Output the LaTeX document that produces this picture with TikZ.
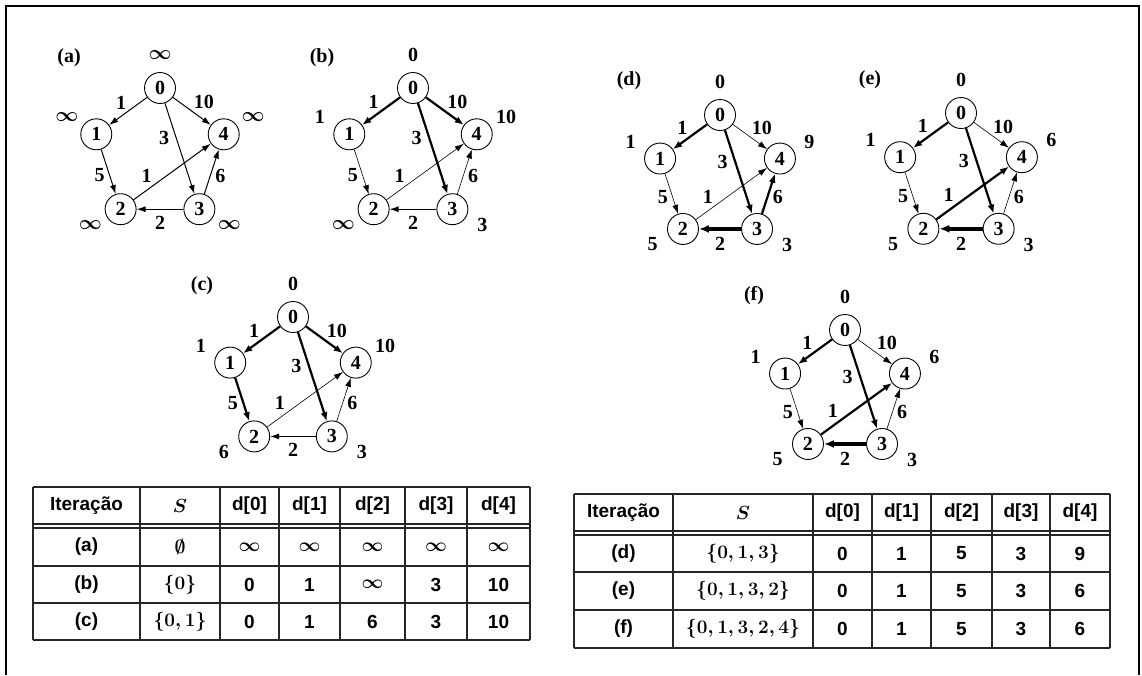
\documentclass[tikz,border=0pt]{standalone}
\usepackage{fix-cm}
\usepackage[no-math]{fontspec}
\setmainfont{Liberation Serif}
\newfontfamily\tabfont{Liberation Sans}
\usepackage{amsmath,amssymb}
\usetikzlibrary{arrows.meta,calc}

\newcommand{\gfont}{\fontsize{20}{20}\selectfont\bfseries\boldmath}
\newcommand{\tfont}{\tabfont\fontsize{19}{19}\selectfont\bfseries\boldmath}

% pentagon graph: prefix, centre, radius, tag, then d[0]..d[4]
\newcommand{\dgraph}[9]{%
  \coordinate (#1c) at #2;
  \node[vtx] (#10) at ($(#1c)+(90:#3)$) {0};
  \node[vtx] (#11) at ($(#1c)+(162:#3)$) {1};
  \node[vtx] (#12) at ($(#1c)+(234:#3)$) {2};
  \node[vtx] (#13) at ($(#1c)+(306:#3)$) {3};
  \node[vtx] (#14) at ($(#1c)+(18:#3)$) {4};
  \node[dist] (#10d) at ($(#10)+(90:33)$) {#5};
  \node[dist] (#11d) at ($(#11)+(150:34)$) {#6};
  \node[dist] (#12d) at ($(#12)+(207:34)$) {#7};
  \node[dist] (#13d) at ($(#13)+(-28:34)$) {#8};
  \node[dist] (#14d) at ($(#14)+(30:34)$) {#9};
  \node[tag] (#1t) at ($(#1c)+(-91,97)$) {(#4)};
}
% edge styles in the order 0-1, 0-4, 0-3, 1-2, 2-4, 3-4, 3-2
\newcommand{\dedges}[8]{%
  \draw[#2] (#10) -- node[wt,above left=0pt] (#1w01) {1} (#11);
  \draw[#3] (#10) -- node[wt,above right=0pt] (#1w04) {10} (#14);
  \draw[#4] (#10) -- node[wt,left=5pt,pos=.38] (#1w03) {3} (#13);
  \draw[#5] (#11) -- node[wt,left=3pt,pos=.58] (#1w12) {5} (#12);
  \draw[#6] (#12) -- node[wt,above=6pt,pos=.17] (#1w24) {1} (#14);
  \draw[#7] (#13) -- node[wt,right=3pt,pos=.41] (#1w34) {6} (#14);
  \draw[#8] (#13) -- node[wt,below=5pt] (#1w32) {2} (#12);
}

\begin{document}
\begin{tikzpicture}[x=1pt,y=1pt,
    vtx/.style={circle,draw,line width=.9pt,fill=white,minimum size=31pt,inner sep=0pt,font=\gfont},
    dist/.style={inner sep=1pt,font=\gfont},
    wt/.style={inner sep=1.5pt,font=\gfont},
    tag/.style={inner sep=0pt,font=\gfont},
    nrm/.style={line width=1pt,-{Latex[length=9pt,width=6pt]}},
    thn/.style={line width=.6pt,-{Latex[length=9pt,width=6pt]}},
    thk/.style={line width=2.2pt,-{Latex[length=9pt,width=7pt]}},
    hvy/.style={line width=3.6pt,-{Latex[length=10pt,width=8pt]}},
    grid/.style={line width=1.3pt,black!85},
    cell/.style={inner sep=0pt,font=\tfont}]
  \useasboundingbox (0,0) rectangle (1142,-675);
  \draw[line width=2pt] (6,-675) -- (6,-6) -- (1139,-6) -- (1139,-675);

  % the six stages of the search
  \dgraph{a}{(160,-155)}{67}{a}{$\infty$}{$\infty$}{$\infty$}{$\infty$}{$\infty$}
  \dedges{a}{nrm}{nrm}{nrm}{nrm}{nrm}{nrm}{nrm}
  \dgraph{b}{(413,-155)}{67}{b}{0}{1}{$\infty$}{3}{10}
  \dedges{b}{thk}{thk}{thk}{thn}{thn}{thn}{nrm}
  \dgraph{c}{(293,-383)}{66}{c}{0}{1}{6}{3}{10}
  \dedges{c}{thk}{thk}{thk}{thk}{thn}{thn}{nrm}
  \dgraph{d}{(720,-178)}{63}{d}{0}{1}{5}{3}{9}
  \dedges{d}{thk}{thn}{thk}{thn}{thn}{thk}{hvy}
  \dgraph{e}{(961,-177)}{64}{e}{0}{1}{5}{3}{6}
  \dedges{e}{thk}{thn}{thk}{thn}{thk}{thn}{hvy}
  \dgraph{f}{(845,-393)}{63}{f}{0}{1}{5}{3}{6}
  \dedges{f}{thk}{thn}{thk}{thn}{thk}{thn}{hvy}

  % table for (a)-(c)
  \foreach \x in {33,140,220,279,340,405,467,530}
    \draw[grid] (\x,-487) -- (\x,-640);
  \foreach \y in {487,524,528,566,603,640}
    \draw[grid] (33,-\y) -- (530,-\y);
  \foreach \x/\txt [count=\i] in {86.5/Itera\c c\~ao,180/{$S$},249.5/d[0],309.5/d[1],372.5/d[2],436/d[3],498.5/d[4]}
    \node[cell] (ta0-\i) at (\x,-505.5) {\txt};
  \foreach \y/\it/\set/\va/\vb/\vc/\vd/\ve [count=\r] in {
      547/(a)/{$\emptyset$}/{$\infty$}/{$\infty$}/{$\infty$}/{$\infty$}/{$\infty$},
      584.5/(b)/{$\{0\}$}/0/1/{$\infty$}/3/10,
      621.5/(c)/{$\{0,1\}$}/0/1/6/3/10}{
    \node[cell] (ta\r-1) at (86.5,-\y) {\it};
    \node[cell] (ta\r-2) at (180,-\y) {\set};
    \node[cell] (ta\r-3) at (249.5,-\y) {\va};
    \node[cell] (ta\r-4) at (309.5,-\y) {\vb};
    \node[cell] (ta\r-5) at (372.5,-\y) {\vc};
    \node[cell] (ta\r-6) at (436,-\y) {\vd};
    \node[cell] (ta\r-7) at (498.5,-\y) {\ve};
  }

  % table for (d)-(f)
  \foreach \x in {574,673,813,872,931,992,1050,1110}
    \draw[grid] (\x,-494) -- (\x,-648);
  \foreach \y in {494,531,535,572,610,648}
    \draw[grid] (574,-\y) -- (1110,-\y);
  \foreach \x/\txt [count=\i] in {623.5/Itera\c c\~ao,743/{$S$},842.5/d[0],901.5/d[1],961.5/d[2],1021/d[3],1080/d[4]}
    \node[cell] (tb0-\i) at (\x,-512.5) {\txt};
  \foreach \y/\it/\set/\va/\vb/\vc/\vd/\ve [count=\r] in {
      553.5/(d)/{$\{0,1,3\}$}/0/1/5/3/9,
      591/(e)/{$\{0,1,3,2\}$}/0/1/5/3/6,
      629/(f)/{$\{0,1,3,2,4\}$}/0/1/5/3/6}{
    \node[cell] (tb\r-1) at (623.5,-\y) {\it};
    \node[cell] (tb\r-2) at (743,-\y) {\set};
    \node[cell] (tb\r-3) at (842.5,-\y) {\va};
    \node[cell] (tb\r-4) at (901.5,-\y) {\vb};
    \node[cell] (tb\r-5) at (961.5,-\y) {\vc};
    \node[cell] (tb\r-6) at (1021,-\y) {\vd};
    \node[cell] (tb\r-7) at (1080,-\y) {\ve};
  }
\end{tikzpicture}
\end{document}
